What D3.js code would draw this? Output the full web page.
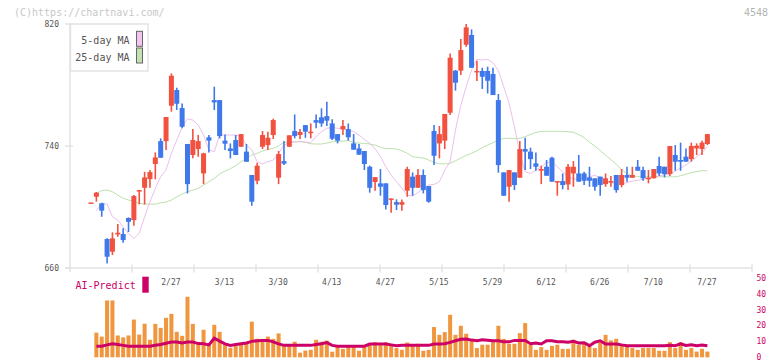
<!DOCTYPE html>
<html lang="en">
<head>
    <meta charset="utf-8">
    <title>4548 chart</title>
    <style type="text/css">
    body {
        margin: 0;
        background-color: #fff;
    }
    svg {
        display: block;
        background-color: white;
    }
    text {
        font-family: "DejaVu Sans Mono", monospace;
    }
    .axisLine {
        stroke: #e3e3e3;
        stroke-width: 1.5;
        fill: none;
    }
    .tickLabel {
        fill: #555;
        font-size: 8px;
    }
    .volLabel {
        fill: #cc0066;
        font-size: 8px;
    }
    </style>
    <script src="https://cdn.jsdelivr.net/npm/d3@7"></script>
</head>
<body>
<div id="chart"></div>
<script>

// daily candles (index 0 = oldest)
var opens = [703,706.7,702.4,679.0,670.7,682.0,682.3,692.8,691.4,710.5, 712.6,718.3,728.2,743.2,743.2,766.4,776.7,764.9,741.3,734.1, 738.0,722.0,745.7,770.1,770.1,743.5,738.4,743.9,739.5,
    736.3,721.0,717.2,739.5,740.6,747.2,719.2,730.1,739.5,749.8, 747.2,753.7,748.5,757.0,758.8,759.6,754.8,747.8,750.9,751.1, 741.7,738.4,736.7,726.4,716.4,715.5,715.5,705.0,703.2,701.5,
    710.7,719.9,712.6,721.0,713.7,749.8,741.7,743.5,761.8,789.4, 789.4,806.4,812.8,788.5,789.2,789.2,787.2,770.1,722.7,713.3, 722.7,719.2,738.0,736.3,728.6,723.8,726.4,732.3,716.4,717.0,
    714.8,722.0,722.0,722.0,719.4,718.8,719.9,715.0,716.6,721.0, 714.4,721.0,719.2,726.4,724.2,718.8,718.8,726.9,726.4,721.6, 734.1,730.8,733.0,731.4,738.4,738.0,741.3];
var highs = [703,709.8,702.8,679.5,683.4,688.8,686.0,693.2,707.8,711.1, 723.1,724.2,735.8,745.0,759.0,787.6,778.2,767.9,741.3,751.1, 747.2,735.6,747.2,778.9,770.1,747.6,741.7,747.2,747.8,
    741.3,721.0,729.0,749.8,749.4,757.9,736.7,743.2,747.0,760.7, 751.1,753.7,754.8,760.7,764.7,769.0,757.5,747.8,757.0,754.8, 747.8,741.3,736.7,727.1,719.6,724.9,715.5,705.6,705.0,705.0,
    726.4,722.7,724.9,724.6,713.7,753.7,753.1,761.0,800.7,789.8, 810.1,820.0,816.5,795.9,791.3,792.0,791.3,774.1,722.7,724.2, 722.7,743.2,745.4,738.9,735.8,727.1,730.8,733.0,717.0,722.0,
    728.2,730.1,734.1,723.1,726.4,718.8,719.9,722.0,720.3,721.0, 724.9,726.4,726.4,730.8,726.4,724.2,724.9,733.0,726.4,740.0, 740.6,742.2,738.4,742.2,741.7,743.5,747.8];
var lows = [703,703.5,693.6,663.0,668.5,680.5,676.6,683.6,687.7,701.7, 701.7,712.6,718.1,732.3,737.3,762.5,763.6,751.6,708.9,731.9, 733.0,715.0,735.8,763.6,745.0,737.3,731.9,734.1,739.5,
    729.7,700.8,715.0,738.0,737.3,744.6,715.0,727.5,739.5,745.0, 744.6,745.4,745.0,751.6,752.6,753.1,743.9,741.7,747.2,743.5, 737.6,734.3,724.2,709.4,710.7,707.4,698.4,696.2,698.0,697.6,
    706.7,707.4,712.6,708.9,702.8,727.5,731.9,738.0,760.3,776.3, 786.5,805.1,791.3,782.6,777.4,774.5,773.4,722.5,707.4,703.5, 711.1,719.2,724.2,724.9,723.8,715.0,720.5,716.6,707.4,711.6,
    711.1,713.3,716.6,714.4,713.3,710.7,707.4,713.3,713.3,709.4, 712.9,716.6,719.2,723.8,717.2,715.5,718.8,720.3,719.4,720.3, 723.8,723.8,729.7,729.7,734.1,734.1,740.6];
var closes = [703,709.4,697.6,667.4,679.4,683.1,678.3,690.3,707.2,711.1, 719.4,722.9,732.5,732.3,759.0,786.1,767.7,752.6,715.0,743.9, 743.2,735.2,743.5,768.6,746.5,741.5,736.7,734.1,747.8,
    729.7,703.5,727.1,747.2,745.4,757.0,734.7,728.4,747.0,746.5, 749.2,749.4,749.4,755.3,754.8,756.6,744.8,743.5,753.1,745.7, 737.6,734.3,728.2,712.6,719.6,713.3,701.3,705.6,701.5,703.2,
    724.9,712.6,721.0,711.1,703.5,733.6,747.8,761.0,797.9,781.5, 802.9,817.8,791.3,789.2,785.4,782.8,773.4,727.5,707.4,724.2, 714.4,738.0,736.3,731.4,726.4,724.9,720.5,716.6,717.0,714.4,
    726.4,726.4,716.6,717.2,717.2,713.3,714.4,718.8,717.0,711.1, 721.0,719.2,721.0,723.8,718.8,719.2,724.9,722.0,721.6,740.0, 729.7,729.7,729.7,740.0,740.2,742.2,747.8];

// moving averages as drawn
var ma5 = [null,697.6,702.4,701.9,693.6,691.4,687.1,682.7,679.4,682.7, 693.6,703.5,712.2,719.9,724.2,735.2,743.9,752.2,757.9,757.0,
    753.7,747.2,737.3,736.3,747.2,747.2,747.2,747.2,746.1,740.6, 737.5,729.7,728.2,729.7,730.8,735.2,740.6,742.2,742.6,743.0,
    742.6,742.2,746.1,749.4,751.6,752.2,751.6,751.3,750.5,749.4, 747.2,744.3,741.7,738.4,733.0,726.4,720.9,716.6,712.2,707.8,
    707.2,709.4,712.2,714.4,714.8,716.6,724.2,729.7,750.5,766.9, 778.9,789.8,796.8,796.4,796.8,794.6,789.4,778.9,767.9,752.6,
    735.2,723.1,722.0,724.2,726.4,729.0,729.7,726.4,723.1,720.3, 718.1,718.8,718.8,719.9,720.7,719.4,717.7,715.9,715.5,715.3,
    716,717,717.5,718.1,719,719.5,720.3,721,721.6,723.5, 725.6,727.5,730,733,735.5,739.5];
var ma25 = [null,708.9,710.7,711.1,710.0,707.8,705.7,704.6,703.5,702.4, 701.9,701.9,701.9,702.8,703.2,704.6,706.7,708.5,710.0,711.1,
    712.2,714.4,716.6,718.8,721.6,723.6,725.1,727.1,729.7,731.9, 734.1,735.2,736.7,737.8,738.4,740.2,742.2,742.8,742.8,742.8,
    742.4,741.5,741.3,741.3,741.9,742.8,743.0,743.2,743.5,742.4, 741.9,741.7,741.3,740.6,739.1,738.4,738.4,738.0,736.9,735.2,
    733.0,732.5,732.1,730.8,729.3,728.4,728.2,728.6,730.3,732.1, 733.9,735.2,736.9,738.9,740.6,742.2,743.9,745.0,745.0,745.0,
    745.0,746.1,747.6,748.9,749.6,749.6,749.6,749.6,749.6,749.4, 749.0,747.5,745.5,742.5,740,737,734,731,728,724.5,
    722,720.3,719.9,719.8,719.8,719.8,719.8,719.8,719.8,719.8, 720.5,721.5,722.5,723.2,723.8,723.8];

// volume (right axis) and AI-Predict line
var volumes = [0,15.5,13,35.7,35.7,13.7,12.5,13.7,23.7,14.3, 21.1,11,21,18.5,24.8,27.3,16,13.5,38,21,
    7.9,17.3,7.9,20.4,16,7.9,6,7.9,8.5,9, 22.4,11.6,11.6,13,11.6,15,7.4,7.5,9.8,2.9,
    4.2,4.7,11,9.8,10.5,3.5,6.7,5.3,7.4,7, 4.1,6.7,8,9.5,7.6,9.5,7.3,5.8,4.7,9.3,
    7.4,8.5,4.1,4.7,19,14.1,15.8,26.7,14.1,19.8, 14.8,10.6,5.8,7.9,7.9,9.9,19.8,11.6,8.5,8.5,
    15.2,21.5,7.9,4.7,6.4,4.7,7.2,7.9,5.3,5.3, 11,7.9,8.5,6.8,5.8,9.3,14.1,10.6,11.6,8.3,
    6.8,5.8,4.7,5.8,5.8,5.8,4.1,4.1,9.5,5.8, 9.5,4.7,5.8,3.6,5.3,3.6];
var aiPredict = [null,7.0,7.0,7.8,8.5,8.0,7.5,7.0,7.0,7.0, 7.0,7.0,7.6,8.0,8.8,9.6,9.6,9.0,9.6,9.6,
    8.6,8.5,7.8,12,10.2,8.4,7.4,8.0,8.5,9.0, 10.0,10.4,10.6,10.6,9.7,8.4,7.5,7.5,7.5,7.5,
    7.5,7.5,8,8.5,9.2,7.5,7,7,7,7, 7,7,8.3,8.3,8.3,8.3,7.8,7.3,7.5,7.5,
    7.5,7.5,7.5,7.5,8.4,8.4,8.5,9.4,10.4,11.3, 11.5,10.8,10.4,11.0,10.7,10.4,10.4,9.7,9.7,10.6,
    10.6,10.6,8.5,9.0,8.4,10.4,10.4,9.8,9.7,9.4, 10.0,9.0,9.2,7.3,9.5,10.4,8.4,8.4,8.4,7.8,
    7.3,7.3,7.3,7.3,7.3,7.3,7.3,7.3,7.6,7.3, 8.4,7.4,7.8,7.3,7.7,7.3];

var dateLabels = ['2/27','3/13','3/30','4/13','4/27','5/15','5/29','6/12','6/26','7/10','7/27'];
var dateIdx = [15,25,35,45,55,65,75,85,95,105,115];
var priceTicks = [660, 740, 820];
var volTicks = [0, 10, 20, 30, 40, 50];

var width = 772, height = 361;
var upColor = '#f2513f', downColor = '#3f78ea';

var svg = d3.select('#chart')
    .append('svg')
    .attr('width', width)
    .attr('height', height);

var xScale = d3.scaleLinear().domain([0, 115]).range([91, 707.4]);
var yScale = d3.scaleLinear().domain([660, 820]).range([268, 24]);
var vScale = d3.scaleLinear().domain([0, 50]).range([357.3, 277.7]);
// evenly spaced grid ticks along the bottom axis
var gridScale = d3.scaleLinear().domain([0, 11]).range([70, 752]);

// watermark + code
svg.append('text')
    .attr('x', 14).attr('y', 16)
    .style('font-size', '10px')
    .attr('fill', '#c8c8c8')
    .text('(C)https://chartnavi.com/');

svg.append('text')
    .attr('x', 768).attr('y', 16)
    .attr('text-anchor', 'end')
    .style('font-size', '10px')
    .attr('fill', '#b4b4b4')
    .text('4548');

// axes
svg.append('line').attr('class', 'axisLine')
    .attr('x1', 70).attr('x2', 70)
    .attr('y1', yScale(820)).attr('y2', 272);
svg.append('line').attr('class', 'axisLine')
    .attr('x1', 65).attr('x2', 752)
    .attr('y1', yScale(660)).attr('y2', yScale(660));

svg.selectAll('.yTick')
    .data(priceTicks)
    .enter()
    .append('line')
    .attr('class', 'axisLine yTick')
    .attr('x1', 65).attr('x2', 73)
    .attr('y1', function(d) { return yScale(d); })
    .attr('y2', function(d) { return yScale(d); });

svg.selectAll('.yLabel')
    .data(priceTicks)
    .enter()
    .append('text')
    .attr('class', 'tickLabel')
    .attr('x', 59)
    .attr('y', function(d) { return yScale(d) + 3; })
    .attr('text-anchor', 'end')
    .text(function(d) { return d; });

svg.selectAll('.xTick')
    .data(d3.range(1, 12))
    .enter()
    .append('line')
    .attr('class', 'axisLine xTick')
    .attr('x1', function(d) { return gridScale(d); })
    .attr('x2', function(d) { return gridScale(d); })
    .attr('y1', 264.5).attr('y2', 272.5);

svg.selectAll('.xLabel')
    .data(dateLabels)
    .enter()
    .append('text')
    .attr('class', 'tickLabel')
    .attr('x', function(d, i) { return xScale(dateIdx[i]) - 0.5; })
    .attr('y', 285)
    .attr('text-anchor', 'middle')
    .text(function(d) { return d; });

// moving averages
var maLine = d3.line()
    .defined(function(d) { return d != null; })
    .x(function(d, i) { return xScale(i); })
    .y(function(d) { return yScale(d); });

svg.append('path')
    .datum(ma25)
    .attr('d', maLine)
    .attr('fill', 'none')
    .attr('stroke', '#bde0ae')
    .attr('stroke-width', 1);

svg.append('path')
    .datum(ma5)
    .attr('d', maLine)
    .attr('fill', 'none')
    .attr('stroke', '#ecbfec')
    .attr('stroke-width', 1);

// candles
var idx = d3.range(opens.length);

svg.selectAll('.wick')
    .data(idx)
    .enter()
    .append('line')
    .attr('class', 'wick')
    .attr('x1', function(i) { return xScale(i); })
    .attr('x2', function(i) { return xScale(i); })
    .attr('y1', function(i) { return yScale(highs[i]); })
    .attr('y2', function(i) { return yScale(lows[i]); })
    .attr('stroke', function(i) { return closes[i] >= opens[i] ? upColor : downColor; })
    .attr('stroke-width', 1.6);

svg.selectAll('.body')
    .data(idx)
    .enter()
    .append('rect')
    .attr('class', 'body')
    .attr('x', function(i) { return xScale(i) - 2.5; })
    .attr('width', 5)
    .attr('y', function(i) { return yScale(Math.max(opens[i], closes[i])); })
    .attr('height', function(i) {
        return Math.max(1.5, Math.abs(yScale(opens[i]) - yScale(closes[i])));
    })
    .attr('fill', function(i) { return closes[i] >= opens[i] ? upColor : downColor; });

// legend
svg.append('rect')
    .attr('x', 70.5).attr('y', 24)
    .attr('width', 77.5).attr('height', 47)
    .attr('fill', 'white')
    .attr('stroke', '#e3e3e3')
    .attr('stroke-width', 1.5);

var legendItems = [['5-day MA', '#f2c4f2', 44.3], ['25-day MA', '#c2e2b4', 61]];
legendItems.forEach(function(d) {
    svg.append('text')
        .attr('x', 129.5).attr('y', d[2])
        .attr('text-anchor', 'end')
        .style('font-size', '10px')
        .attr('fill', '#555')
        .text(d[0]);
    svg.append('rect')
        .attr('x', 136.5).attr('y', d[2] - 13)
        .attr('width', 6).attr('height', 15)
        .attr('fill', d[1])
        .attr('stroke', '#666')
        .attr('stroke-width', 1);
});

// volume panel
svg.selectAll('.vol')
    .data(idx)
    .enter()
    .append('rect')
    .attr('class', 'vol')
    .attr('x', function(i) { return xScale(i) - 2; })
    .attr('width', 4)
    .attr('y', function(i) { return vScale(volumes[i]); })
    .attr('height', function(i) { return vScale(0) - vScale(volumes[i]); })
    .attr('fill', '#f0963e');

var aiLine = d3.line()
    .defined(function(d) { return d != null; })
    .x(function(d, i) { return xScale(i); })
    .y(function(d) { return vScale(d); });

svg.append('path')
    .datum(aiPredict)
    .attr('d', aiLine)
    .attr('fill', 'none')
    .attr('stroke', '#cc0066')
    .attr('stroke-width', 3);

svg.selectAll('.vLabel')
    .data(volTicks)
    .enter()
    .append('text')
    .attr('class', 'volLabel')
    .attr('x', 756.5)
    .attr('y', function(d) { return vScale(d) + 3; })
    .text(function(d) { return d; });

svg.append('text')
    .attr('x', 75.5).attr('y', 289)
    .style('font-size', '10px')
    .attr('fill', '#cc0066')
    .text('AI-Predict');

svg.append('rect')
    .attr('x', 142.3).attr('y', 276.7)
    .attr('width', 6.4).attr('height', 16)
    .attr('fill', '#cc0066');

</script>
</body>
</html>
